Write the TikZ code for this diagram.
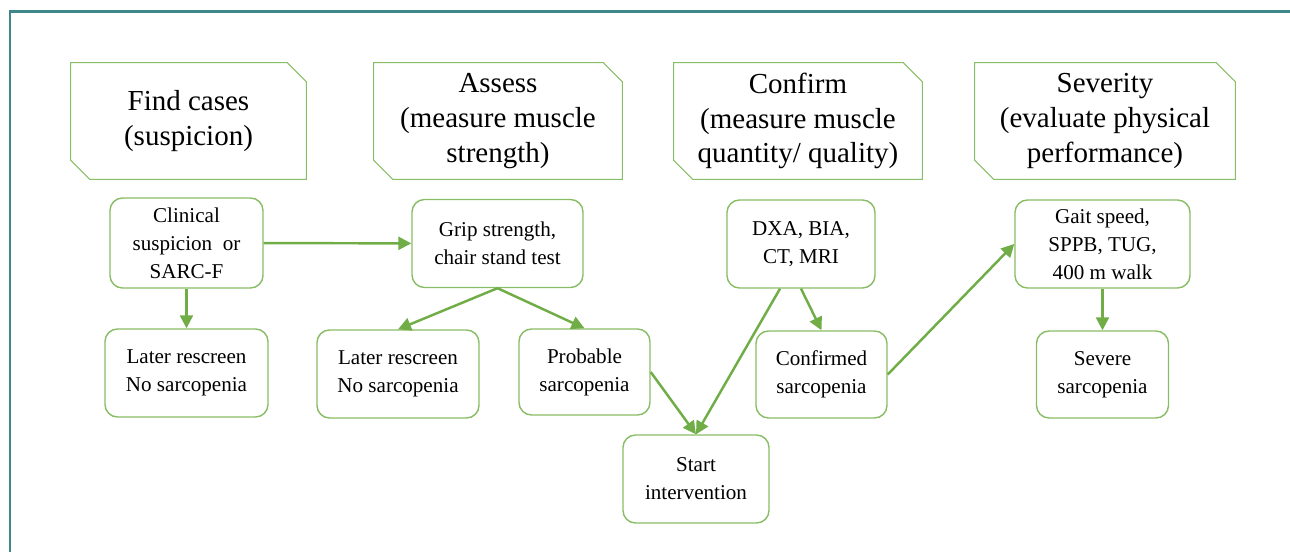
\documentclass[tikz,border=0pt]{standalone}
\usepackage{fontspec}
\setmainfont{Liberation Serif}
\usetikzlibrary{arrows.meta}
\definecolor{boxgreen}{HTML}{88BD66}
\definecolor{arrowgreen}{HTML}{70AD47}
\definecolor{frameteal}{HTML}{3F878B}
\tikzstyle{stage}=[rectangle, inner sep=0pt, minimum height=2.32cm, align=center,
  font=\fontsize{16.5}{19.8}\selectfont]
\tikzstyle{test}=[draw=boxgreen, rounded corners=0.25cm, line width=0.8pt,
  minimum height=1.76cm, align=center, font=\fontsize{12}{16}\selectfont]
\tikzstyle{flow}=[-{Triangle[length=0.26cm,width=0.26cm]}, arrowgreen,
  line width=1.4pt]
% outline with two snipped corners
\newcommand{\snipbox}[1]{\draw[boxgreen, line width=0.6pt] (#1.north west) --
  ([xshift=-0.38cm] #1.north east) -- ([yshift=-0.38cm] #1.north east) --
  (#1.south east) -- ([xshift=0.38cm] #1.south west) --
  ([yshift=0.38cm] #1.south west) -- cycle;}

\begin{document}
\begin{tikzpicture}
\useasboundingbox (0,0) rectangle (25.8,-11.04);
\draw[frameteal, line width=1.7pt] (0.2,-11.04) -- (0.2,-0.24) -- (25.8,-0.24);
%
\draw(3.77,-2.42) node[stage, minimum width=4.7cm](find){Find cases\\(suspicion)};
\snipbox{find}
\draw(9.96,-2.42) node[stage, minimum width=4.96cm](assess)
  {Assess\\(measure muscle\\strength)};
\snipbox{assess}
\draw(15.96,-2.42) node[stage, minimum width=4.96cm](confirm)
  {Confirm\\(measure muscle\\quantity/ quality)};
\snipbox{confirm}
\draw(22.1,-2.42) node[stage, minimum width=5.2cm](severity)
  {Severity\\(evaluate physical\\performance)};
\snipbox{severity}
%
\draw(3.73,-4.86) node[test, minimum width=3.06cm, minimum height=1.8cm](clinical)
  {Clinical\\suspicion~~or\\SARC-F};
\draw(3.73,-7.46) node[test, minimum width=3.26cm](rescreenA)
  {Later rescreen\\No sarcopenia};
\draw[flow] (clinical) -- (rescreenA);
%
\draw(9.95,-4.87) node[test, minimum width=3.42cm](grip)
  {Grip strength,\\chair stand test};
\draw[flow] (clinical) -- (grip);
\draw(7.96,-7.48) node[test, minimum width=3.24cm](rescreenB)
  {Later rescreen\\No sarcopenia};
\draw(11.69,-7.44) node[test, minimum width=2.62cm, minimum height=1.72cm](probable)
  {Probable\\sarcopenia};
\draw[flow] (grip.south) -- (rescreenB.north);
\draw[flow] (grip.south) -- (probable.north);
%
\draw(16.02,-4.88) node[test, minimum width=2.96cm](dxa){DXA, BIA,\\CT, MRI};
\draw(16.43,-7.49) node[test, minimum width=2.62cm, minimum height=1.74cm](confirmed)
  {Confirmed\\sarcopenia};
\draw[flow] (dxa.south) -- (confirmed.north);
%
\draw(13.92,-9.58) node[test, minimum width=2.92cm](start){Start\\intervention};
\draw[flow] (probable.east) -- (start.north);
\draw[flow] ([xshift=-0.42cm] dxa.south) -- (start.north);
%
\draw(22.05,-4.88) node[test, minimum width=3.5cm](gait)
  {Gait speed,\\SPPB, TUG,\\400 m walk};
\draw[flow] (confirmed.east) -- (gait.west);
\draw(22.05,-7.49) node[test, minimum width=2.64cm, minimum height=1.74cm](severe)
  {Severe\\sarcopenia};
\draw[flow] (gait) -- (severe);
\end{tikzpicture}
\end{document}
